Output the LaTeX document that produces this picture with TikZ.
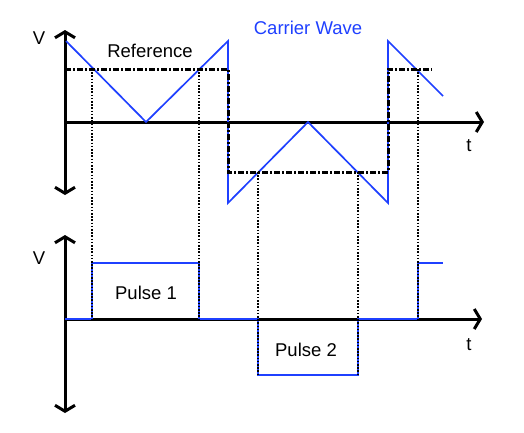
\documentclass[tikz,border=0pt]{standalone}
\usepackage{fontspec}
\setmainfont{Liberation Sans}
\usepackage{tikz}
\usepackage{xcolor}
\usetikzlibrary{arrows.meta}

\definecolor{wireblue}{RGB}{31,64,255}

\tikzset{
  axistip/.tip={Straight Barb[length=6pt, width=20pt, line width=3pt]},
  axis/.style={line width=3pt, black},
  carrier/.style={line width=1.7pt, wireblue, line join=miter},
  refline/.style={line width=3pt, black, dash pattern=on 6pt off 2pt on 2pt off 2pt},
  dropline/.style={line width=1.6pt, black, dash pattern=on 1.6pt off 1.6pt},
  pulse/.style={line width=2pt, wireblue},
  lbl/.style={font=\fontsize{18.5}{22}\selectfont, inner sep=0pt}
}

\begin{document}
\begin{tikzpicture}[x=1pt, y=-1pt]
    \useasboundingbox (0,0) rectangle (524,432);

    %% top plot: carrier against reference
    \draw [axis, axistip-axistip] (65,30) -- (65,195);
    \draw [axis, -axistip] (65,122) -- (484,122);
    \node [lbl] (v1) at (39,38) {V};
    \node [lbl] (t1) at (469,146) {t};

    \draw [carrier] (66,41) -- (146,122) -- (228,41) -- (228,203)
       -- (308,122) -- (388,203) -- (388,41) -- (443,96);
    \draw [refline] (65,69) -- (228,69) -- (228,172) -- (388,172)
       -- (388,69) -- (432,69);

    \node [lbl] (ref) at (150,51) {Reference};
    \node [lbl, text=wireblue] (cw) at (308,28) {Carrier Wave};

    %% bottom plot: pulses
    \draw [axis, axistip-axistip] (65,235) -- (65,413);
    \draw [axis, -axistip] (65,319) -- (482,319);
    \node [lbl] (v2) at (39,258) {V};
    \node [lbl] (t2) at (469,345) {t};

    \draw [pulse] (65,319) -- (92,319) -- (92,263) -- (199,263) -- (199,319)
       -- (258,319) -- (258,375) -- (358,375) -- (358,319) -- (418,319)
       -- (418,263) -- (443,263);

    \node [lbl] (p1) at (146,293) {Pulse 1};
    \node [lbl] (p2) at (306,350) {Pulse 2};

    %% crossings dropped onto the pulse plot
    \foreach \x/\ya/\yb in {92/69/319, 199/69/319, 258/172/375,
                            358/172/375, 418/69/319}
      \draw [dropline] (\x,\ya) -- (\x,\yb);

\end{tikzpicture}
\end{document}
